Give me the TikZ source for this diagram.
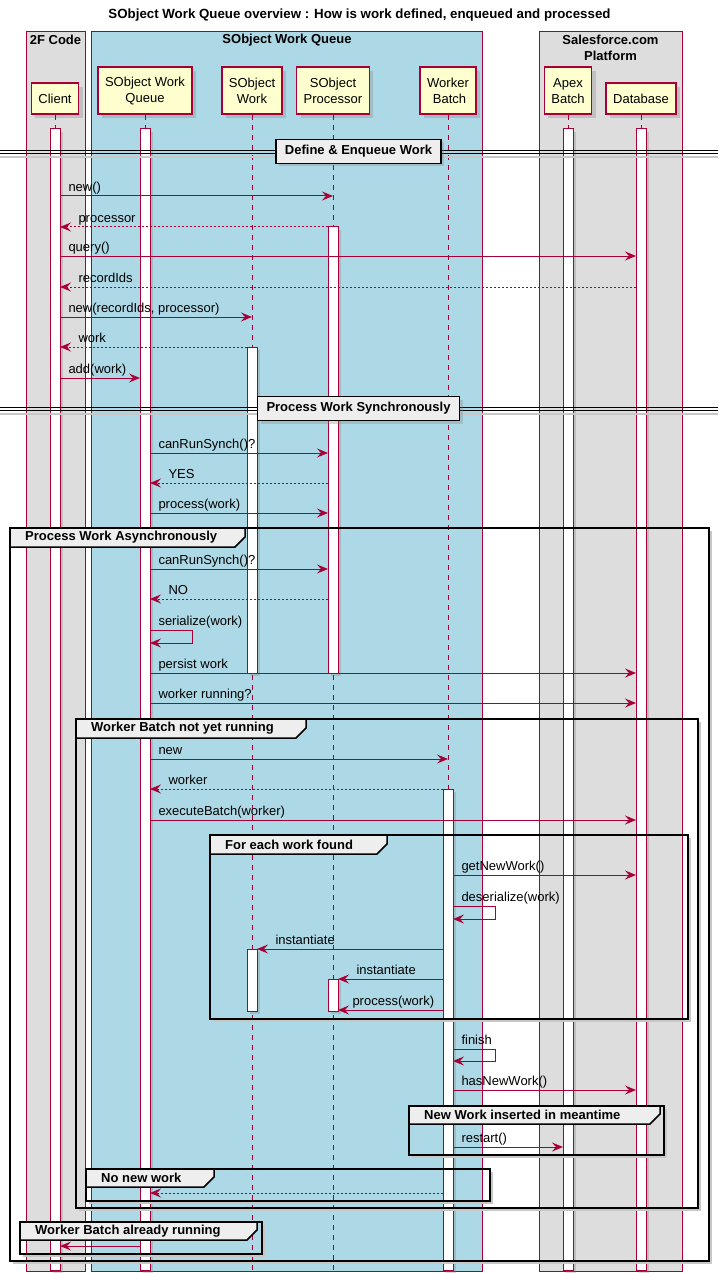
\documentclass[tikz,border=0pt]{standalone}
\usepackage{fontspec}
\setmainfont{Liberation Sans}
\usetikzlibrary{arrows.meta,shadows,calc}

\definecolor{umlred}{HTML}{A80036}
\definecolor{partfill}{HTML}{FEFECE}
\definecolor{boxgray}{HTML}{DDDDDD}
\definecolor{boxblue}{HTML}{ADD8E6}
\definecolor{tabgray}{HTML}{EEEEEE}

\tikzset{
  part/.style={draw=umlred, line width=1.5pt, fill=partfill, anchor=south, align=center,
    inner xsep=7pt, inner ysep=6pt, minimum height=31pt, font=\fontsize{13}{16}\selectfont,
    drop shadow={shadow xshift=4pt, shadow yshift=-4pt, opacity=0.3}},
  twoline/.style={minimum height=47pt},
  life/.style={umlred, line width=1pt, dash pattern=on 5pt off 5pt},
  bar/.style={draw=umlred, line width=1pt, fill=white,
    drop shadow={shadow xshift=3pt, shadow yshift=-3pt, opacity=0.3}},
  msg/.style={draw=umlred, line width=1pt, -{Stealth[length=11pt,width=9pt,inset=4pt]}},
  ret/.style={msg, dash pattern=on 2pt off 2pt},
  lr/.style={anchor=base west, xshift=8pt, yshift=4.5pt, inner sep=0pt, text=black},
  rl/.style={anchor=base west, xshift=18pt, yshift=4.5pt, inner sep=0pt, text=black},
  grp/.style={draw=black, line width=1.5pt},
  gshade/.style={draw=black!22, line width=2.5pt},
  tab/.style={draw=black, line width=1.5pt, fill=tabgray},
  grplbl/.style={anchor=west, inner sep=0pt, font=\bfseries\fontsize{13}{15}\selectfont},
  sepline/.style={draw=black, line width=1pt},
  seplbl/.style={draw=black, line width=1.5pt, fill=tabgray, minimum height=24pt, inner xsep=9pt,
    font=\bfseries\fontsize{13}{15}\selectfont,
    drop shadow={shadow xshift=3pt, shadow yshift=-3pt, opacity=0.3}},
  boxlbl/.style={inner sep=0pt, align=center, font=\bfseries\fontsize{13}{16}\selectfont}
}

\begin{document}
\begin{tikzpicture}[x=1pt, y=-1pt, font=\fontsize{13}{15}\selectfont]
\useasboundingbox (0,0) rectangle (718,1273);

% boxes
\draw[umlred, line width=1pt, fill=boxgray] (26,32) rectangle (85,1271);
\draw[umlred, line width=1pt, fill=boxblue] (91,32) rectangle (482,1271);
\draw[umlred, line width=1pt, fill=boxgray] (539,32) rectangle (682,1271);
\node[boxlbl] (box1) at (55.5,40) {2F Code};
\node[boxlbl] (box2) at (287,40) {SObject Work Queue};
\node[boxlbl] (box3) at (610.5,48) {Salesforce.com\\Platform};

\node[font=\bfseries\fontsize{13.3}{15}\selectfont] (title) at (359.5,15)
  {SObject Work Queue overview : How is work defined, enqueued and processed};

% participants
\node[part] (client) at (55,115) {Client};
\node[part, twoline] (swq) at (145,115) {SObject Work\\Queue};
\node[part, twoline] (swork) at (252,115) {SObject\\Work};
\node[part, twoline] (proc) at (333,115) {SObject\\Processor};
\node[part, twoline] (wbatch) at (448,115) {Worker\\\hspace*{3pt}Batch};
\node[part, twoline] (apex) at (568,115) {Apex\\Batch};
\node[part] (db) at (641,115) {Database};

\foreach \p in {client,swq,swork,proc,wbatch,apex,db}
  \draw[life] (\p.south) -- (\p |- 0,1271);

\coordinate (clL) at ($(client)+(-5,0)$);
\coordinate (clR) at ($(client)+(5,0)$);
\coordinate (swqL) at ($(swq)+(-5,0)$);
\coordinate (swqR) at ($(swq)+(5,0)$);
\coordinate (swL) at ($(swork)+(-5,0)$);
\coordinate (swR) at ($(swork)+(5,0)$);
\coordinate (prL) at ($(proc)+(-5,0)$);
\coordinate (prR) at ($(proc)+(5,0)$);
\coordinate (wbL) at ($(wbatch)+(-5,0)$);
\coordinate (wbR) at ($(wbatch)+(5,0)$);
\coordinate (apL) at ($(apex)+(-5,0)$);
\coordinate (apR) at ($(apex)+(5,0)$);
\coordinate (dbL) at ($(db)+(-5,0)$);
\coordinate (dbR) at ($(db)+(5,0)$);

% activations
\draw[bar] (clL |- 0,129) rectangle (clR |- 0,1270);
\draw[bar] (swqL |- 0,129) rectangle (swqR |- 0,1270);
\draw[bar] (apL |- 0,129) rectangle (apR |- 0,1270);
\draw[bar] (dbL |- 0,129) rectangle (dbR |- 0,1270);
\draw[bar] (prL |- 0,227) rectangle (prR |- 0,673);
\draw[bar] (swL |- 0,347) rectangle (swR |- 0,673);
\draw[bar] (wbL |- 0,789) rectangle (wbR |- 0,1270);
\draw[bar] (swL |- 0,949) rectangle (swR |- 0,1011);
\draw[bar] (prL |- 0,979) rectangle (prR |- 0,1011);

% separators
\draw[black!22, line width=2pt] (0,157) -- (718,157);
\draw[sepline] (0,150.5) -- (718,150.5);
\draw[sepline] (0,153.5) -- (718,153.5);
\node[seplbl] (sep1) at (358.5,151.5) {Define \& Enqueue Work};
\draw[black!22, line width=2pt] (0,414) -- (718,414);
\draw[sepline] (0,407.5) -- (718,407.5);
\draw[sepline] (0,410.5) -- (718,410.5);
\node[seplbl] (sep2) at (358.5,408.5) {Process Work Synchronously};

% messages
\draw[msg] (clR |- 0,196) -- (proc |- 0,196) node[lr, pos=0] (m1) {new()};
\draw[ret] (prL |- 0,227) -- (clR |- 0,227) node[rl, pos=1] (m2) {processor};
\draw[msg] (clR |- 0,256) -- (dbL |- 0,256) node[lr, pos=0] (m3) {query()};
\draw[ret] (dbL |- 0,287) -- (clR |- 0,287) node[rl, pos=1] (m4) {recordIds};
\draw[msg] (clR |- 0,317) -- (swork |- 0,317) node[lr, pos=0] (m5) {new(recordIds, processor)};
\draw[ret] (swL |- 0,347) -- (clR |- 0,347) node[rl, pos=1] (m6) {work};
\draw[msg] (clR |- 0,378) -- (swqL |- 0,378) node[lr, pos=0] (m7) {add(work)};
\draw[msg] (swqR |- 0,453) -- (prL |- 0,453) node[lr, pos=0] (m8) {canRunSynch()?};
\draw[ret] (prL |- 0,483) -- (swqR |- 0,483) node[rl, pos=1] (m9) {YES};
\draw[msg] (swqR |- 0,513) -- (prL |- 0,513) node[lr, pos=0] (m10) {process(work)};
\draw[msg] (swqR |- 0,569) -- (prL |- 0,569) node[lr, pos=0] (m11) {canRunSynch()?};
\draw[ret] (prL |- 0,599) -- (swqR |- 0,599) node[rl, pos=1] (m12) {NO};
\draw[msg] (swqR |- 0,630) -- ++(42,0) node[lr, pos=0] (m13) {serialize(work)}
  -- ++(0,13) -- (swqR |- 0,643);
\draw[msg] (swqR |- 0,673) -- (dbL |- 0,673) node[lr, pos=0] (m14) {persist work};
\draw[msg] (swqR |- 0,703) -- (dbL |- 0,703) node[lr, pos=0] (m15) {worker running?};
\draw[msg] (swqR |- 0,759) -- (wbatch |- 0,759) node[lr, pos=0] (m16) {new};
\draw[ret] (wbL |- 0,789) -- (swqR |- 0,789) node[rl, pos=1] (m17) {worker};
\draw[msg] (swqR |- 0,820) -- (dbL |- 0,820) node[lr, pos=0] (m18) {executeBatch(worker)};
\draw[msg] (wbR |- 0,875) -- (dbL |- 0,875) node[lr, pos=0] (m19) {getNewWork()};
\draw[msg] (wbR |- 0,906) -- ++(42,0) node[lr, pos=0] (m20) {deserialize(work)}
  -- ++(0,13) -- (wbR |- 0,919);
\draw[msg] (wbL |- 0,949) -- (swR |- 0,949) node[rl, pos=1] (m21) {instantiate};
\draw[msg] (wbL |- 0,979) -- (prR |- 0,979) node[rl, pos=1] (m22) {instantiate};
\draw[msg] (wbL |- 0,1010) -- (prR |- 0,1010) node[rl, pos=1, xshift=-4pt] (m23) {process(work)};
\draw[msg] (wbR |- 0,1049) -- ++(42,0) node[lr, pos=0] (m24) {finish}
  -- ++(0,12) -- (wbR |- 0,1061);
\draw[msg] (wbR |- 0,1090) -- (dbL |- 0,1090) node[lr, pos=0] (m25) {hasNewWork()};
\draw[msg] (wbR |- 0,1147) -- (apL |- 0,1147) node[lr, pos=0] (m26) {restart()};
\draw[ret] (wbL |- 0,1193) -- (swqR |- 0,1193);
\draw[msg] (swqL |- 0,1246) -- (clR |- 0,1246);

% groups
\draw[gshade] (13,1263) -| (711,531);
\draw[grp] (10,528) rectangle (709,1261);
\draw[tab] (10,528) -- (245,528) -- (245,537) -- (235,547) -- (10,547) -- cycle;
\node[grplbl] (g1) at (25,537.5) {Process Work Asynchronously};

\draw[gshade] (79,1210) -| (700,722);
\draw[grp] (76,719) rectangle (698,1208);
\draw[tab] (76,719) -- (306,719) -- (306,728) -- (296,738) -- (76,738) -- cycle;
\node[grplbl] (g2) at (91,728.5) {Worker Batch not yet running};

\draw[gshade] (213,1021) -| (690,838);
\draw[grp] (210,835) rectangle (688,1019);
\draw[tab] (210,835) -- (387,835) -- (387,844) -- (377,854) -- (210,854) -- cycle;
\node[grplbl] (g3) at (225,844.5) {For each work found};

\draw[gshade] (412,1157) -| (666,1109);
\draw[grp] (409,1106) rectangle (664,1155);
\draw[tab] (409,1106) -- (660,1106) -- (660,1114) -- (650,1124) -- (409,1124) -- cycle;
\node[grplbl] (g4) at (424,1115) {New Work inserted in meantime};

\draw[gshade] (89,1203) -| (492,1172);
\draw[grp] (86,1169) rectangle (490,1201);
\draw[tab] (86,1169) -- (214,1169) -- (214,1177) -- (204,1187) -- (86,1187) -- cycle;
\node[grplbl] (g5) at (101,1178) {No new work};

\draw[gshade] (23,1256) -| (264,1225);
\draw[grp] (20,1222) rectangle (262,1254);
\draw[tab] (20,1222) -- (257,1222) -- (257,1230) -- (247,1240) -- (20,1240) -- cycle;
\node[grplbl] (g6) at (35,1231) {Worker Batch already running};
\end{tikzpicture}
\end{document}
